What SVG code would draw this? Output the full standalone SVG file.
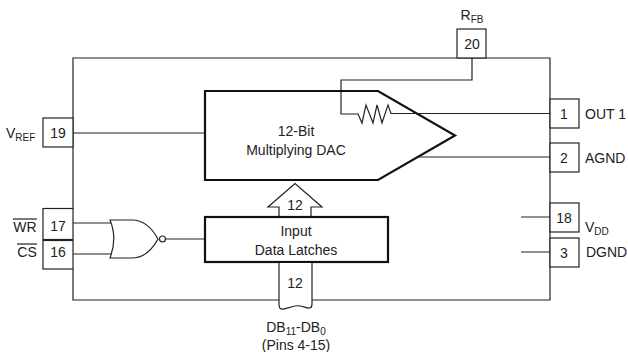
<svg xmlns="http://www.w3.org/2000/svg" width="628" height="352" viewBox="0 0 628 352">
<style>
text{font-family:"Liberation Sans",Arial,sans-serif;font-size:14px;fill:#222;text-anchor:middle}
.l{text-anchor:start}
.s{font-size:10px}
.w{fill:none;stroke:#222;stroke-width:1.2}
.p{fill:#fff;stroke:#222;stroke-width:1.2}
.b{fill:#fff;stroke:#111;stroke-width:2.2}
</style>
<rect width="628" height="352" fill="#fff"/>
<g id="connectors">
<path class="w" d="M73 209V58H550V300H73V269"/>
<path class="w" d="M73 133H205"/>
<path class="w" d="M472 58V80H341V114H358L362 123L366 105L373 123L377 105L382 123L388 105L391 113.500H550"/>
<path class="w" d="M418 157H550"/>
<path class="w" d="M521 217H550M521 252H550"/>
<path class="w" d="M73 223H112M73 254H112"/>
<path class="w" d="M166 239H205"/>
</g>
<g id="pin20"><rect class="p" x="457" y="29" width="29" height="29"/><text x="472" y="49">20</text><text x="472" y="20">R<tspan class="s" dy="3">FB</tspan></text></g>
<g id="pin19"><rect class="p" x="43" y="118" width="30" height="29"/><text x="58" y="138">19</text><text class="l" x="6" y="138">V<tspan class="s" dy="3">REF</tspan></text></g>
<g id="pin17"><rect class="p" x="43" y="208.500" width="30" height="31"/><text x="58" y="231">17</text><text x="25" y="232">WR</text><path class="w" d="M13 219H37"/></g>
<g id="pin16"><rect class="p" x="43" y="240.500" width="30" height="28.500"/><text x="58" y="257">16</text><text x="27" y="257">CS</text><path class="w" d="M17 244H37"/></g>
<g id="pin1"><rect class="p" x="550" y="99" width="29" height="29"/><text x="564" y="119">1</text><text class="l" x="585" y="119">OUT 1</text></g>
<g id="pin2"><rect class="p" x="550" y="143" width="29" height="29"/><text x="564" y="163">2</text><text class="l" x="585" y="163">AGND</text></g>
<g id="pin18"><rect class="p" x="550" y="203" width="29" height="29"/><text x="564" y="223">18</text><text class="l" x="585" y="232">V<tspan class="s" dy="3">DD</tspan></text></g>
<g id="pin3"><rect class="p" x="550" y="238" width="29" height="29"/><text x="564" y="258">3</text><text class="l" x="586" y="257">DGND</text></g>
<g id="dac">
<path class="w" style="stroke:#111;stroke-width:2.2" d="M378 91H205V180H378L455 135.500Z"/>
<text x="296" y="136">12-Bit</text><text x="296" y="155">Multiplying DAC</text>
</g>
<g id="bus-up"><path class="p" d="M279 216V207H268L295 183.500L322 207H311V216"/><text x="295" y="210">12</text></g>
<g id="latches"><rect class="b" x="205" y="217" width="183" height="45"/><text x="296" y="236">Input</text><text x="296" y="255">Data Latches</text></g>
<g id="nor">
<path class="p" d="M110 220H132C143 220 152 228 158 239C152 250 143 258 132 258H110C115 245 115 232 110 220Z"/>
<circle class="p" cx="162.500" cy="239" r="3"/>
</g>
<g id="bus-in"><path class="p" d="M279 263V304C279 313 285 308 295 306C303 304 312 313 312 304V263"/><text x="295" y="288">12</text></g>
<g id="db-label"><text x="296" y="332">DB<tspan class="s" dy="3">11</tspan><tspan dy="-3">-DB</tspan><tspan class="s" dy="3">0</tspan></text><text x="296" y="350">(Pins 4-15)</text></g>
</svg>
